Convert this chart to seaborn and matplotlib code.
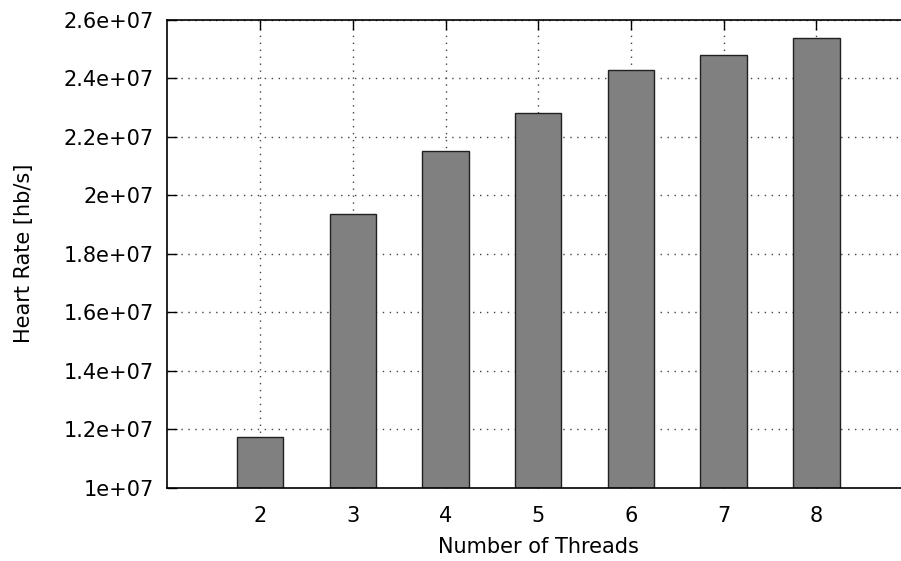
import matplotlib
matplotlib.use('Agg')
import matplotlib.pyplot as plt
import seaborn as sns
from matplotlib.ticker import FuncFormatter, MultipleLocator

# values
threads = [2, 3, 4, 5, 6, 7, 8]
heart_rate = [1.172e7, 1.936e7, 2.150e7, 2.280e7, 2.428e7, 2.479e7, 2.536e7]

sns.set_style('white')
plt.rcParams['font.family'] = ['DejaVu Sans']
plt.rcParams['text.color'] = 'black'
plt.rcParams['axes.labelcolor'] = 'black'
plt.rcParams['xtick.color'] = 'black'
plt.rcParams['ytick.color'] = 'black'

fig = plt.figure(figsize=(9.01, 5.61), dpi=100)
ax = fig.add_axes([0.1859, 0.1307, 0.823, 0.8345])

sns.barplot(x=threads, y=heart_rate, native_scale=True, width=0.5,
            color='#808080', saturation=1, edgecolor='#202020',
            linewidth=1.0, ax=ax)

ax.set_xlim(1, 9)
ax.set_ylim(1e7, 2.6e7)
ax.yaxis.set_major_locator(MultipleLocator(2e6))
ax.set_xticks(threads)
ax.yaxis.set_major_formatter(FuncFormatter(lambda v, p: '%g' % v))

ax.set_axisbelow(True)
ax.grid(True, linestyle=(0, (1, 4)), color='#444444', linewidth=1.0)

for side in ['left', 'bottom', 'top']:
    ax.spines[side].set_visible(True)
    ax.spines[side].set_color('black')
    ax.spines[side].set_linewidth(1.2)
ax.spines['right'].set_visible(False)

ax.tick_params(axis='both', direction='in', length=7, width=1,
               labelsize=15, top=True, left=True, bottom=True)
ax.tick_params(axis='y', pad=10)
ax.tick_params(axis='x', pad=13)

ax.set_xlabel('Number of Threads', fontsize=15, labelpad=8)
ax.set_ylabel('Heart Rate [hb/s]', fontsize=15, labelpad=21)

fig.savefig('out.png', dpi=100)
